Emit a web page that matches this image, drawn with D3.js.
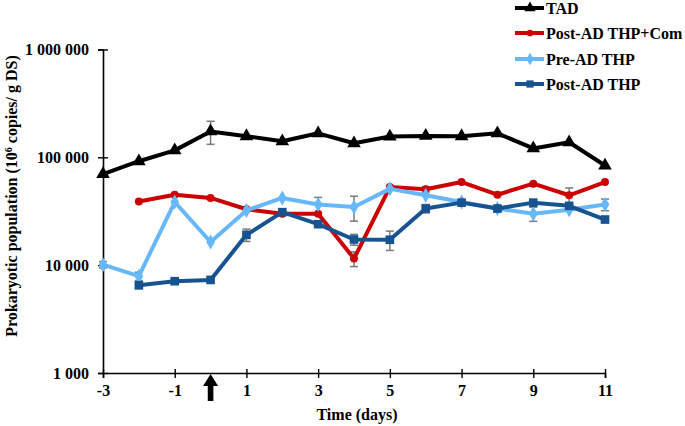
<!DOCTYPE html>
<html><head><meta charset="utf-8">
<script src="https://cdn.jsdelivr.net/npm/d3@7"></script>
<style>
body{margin:0;background:#fff;}
text{font-family:"Liberation Serif","Times New Roman",serif;font-weight:bold;fill:#000;}
</style></head>
<body><svg id="c" width="685" height="426"></svg>
<script>
const days = [-3,-2,-1,0,1,2,3,4,5,6,7,8,9,10,11];
const tad      = [70000, 92000, 116000, 174000, 157000, 141000, 167000, 135000, 156000, 158000, 157000, 167000, 121000, 138000, 84000];
const tadErr   = [null,null,null,42000,null,null,null,null,null,null,null,null,null,null,null];
const postCom  = [null, 39000, 45000, 42000, 33000, 30000, 30000, 11500, 53000, 50500, 59000, 45000, 57000, 44500, 59000];
const postComErr = [null,null,null,null,null,null,null,1800,null,3000,null,null,null,7500,null];
const preAD    = [10100, 7900, 38500, 16400, 32200, 42000, 36500, 34600, 51000, 44500, 38500, 33500, 30000, 32700, 36500];
const preADErr = [700,700,null,null,null,null,6000,9000,null,null,null,null,4500,null,4500];
const postAD   = [null, 6500, 7100, 7300, 19100, 31000, 24000, 17300, 17200, 33500, 38000, 33500, 38000, 35500, 26500];
const postADErr= [null,null,null,null,2500,null,null,2000,3500,3000,null,2000,null,null,null];
const xTicks = [-3,-1,1,3,5,7,9,11];
const yTicks = [1000,10000,100000,1000000];
const seriesNames = ["TAD","Post-AD THP+Com","Pre-AD THP","Post-AD THP"];
const seriesColors = ["#000000","#cc0000","#66b8fa","#175390"];
const seriesSymbols = [d3.symbolTriangle, d3.symbolCircle, d3.symbolDiamond, d3.symbolSquare];
const seriesSizes = [80, 50, 65, 75];

const series = [
  {name:seriesNames[0], vals:tad, err:tadErr},
  {name:seriesNames[1], vals:postCom, err:postComErr},
  {name:seriesNames[2], vals:preAD, err:preADErr},
  {name:seriesNames[3], vals:postAD, err:postADErr}
].map((s,i)=>({...s,color:seriesColors[i],symbol:seriesSymbols[i],size:seriesSizes[i],
  pts:days.map((d,j)=>({d,v:s.vals[j],e:s.err[j]})).filter(p=>p.v!=null)}));

const svg = d3.select("#c");
const x = d3.scaleLinear().domain([-3,11]).range([103,605]);
const y = d3.scaleLog().domain([1000,1000000]).range([373,49.5]);
const fmt = v => d3.format(",")(v).replace(/,/g," ");

// axes
const gx = svg.append("g").attr("transform","translate(0,373)")
  .call(d3.axisBottom(x).tickValues(xTicks).tickSizeOuter(0).tickSize(5).tickFormat(d=>String(d)));
gx.select(".domain").attr("stroke","#000").attr("stroke-width",1.6);
gx.selectAll(".tick line").attr("y1",-4).attr("y2",5).attr("stroke-width",1.4);
gx.selectAll(".tick text").attr("y",12).style("font-size","16px").style("font-family","Liberation Serif").style("font-weight","bold");

const gy = svg.append("g").attr("transform","translate(103,0)")
  .call(d3.axisLeft(y).tickValues(yTicks).tickSizeOuter(0).tickSize(5).tickFormat(fmt));
gy.select(".domain").attr("stroke","#000").attr("stroke-width",1.6);
gy.selectAll(".tick line").attr("x1",5).attr("x2",-5).attr("stroke-width",1.4);
gy.selectAll(".tick text").attr("x",-14).style("font-size","16px").style("font-family","Liberation Serif").style("font-weight","bold");

// axis titles
svg.append("text").attr("x",(x(-3)+x(11))/2 + 3).attr("y",420).attr("text-anchor","middle")
  .style("font-size","16px").text("Time (days)");
const yt = svg.append("text").attr("transform","translate(17,196) rotate(-90)").attr("text-anchor","middle")
  .style("font-size","16px");
yt.append("tspan").text("Prokaryotic population (10");
yt.append("tspan").attr("baseline-shift","super").style("font-size","10px").text("6");
yt.append("tspan").text(" copies/ g DS)");

// arrow at day 0
const ax = x(0);
svg.append("path").attr("fill","#000")
  .attr("d",`M${ax},374 L${ax+7.5},386 L${ax+2.8},386 L${ax+2.8},401 L${ax-2.8},401 L${ax-2.8},386 L${ax-7.5},386 Z`);

// error bars
const eg = svg.append("g").attr("stroke","#7a7a7a").attr("stroke-width",1.5);
series.forEach(s=>{
  s.pts.filter(p=>p.e!=null).forEach(p=>{
    const cx = x(p.d), y1 = y(p.v+p.e), y2 = y(p.v-p.e);
    eg.append("line").attr("x1",cx).attr("x2",cx).attr("y1",y1).attr("y2",y2);
    eg.append("line").attr("x1",cx-4).attr("x2",cx+4).attr("y1",y1).attr("y2",y1);
    eg.append("line").attr("x1",cx-4).attr("x2",cx+4).attr("y1",y2).attr("y2",y2);
  });
});

// lines and markers
const line = d3.line().x(p=>x(p.d)).y(p=>y(p.v));
series.forEach(s=>{
  svg.append("path").datum(s.pts).attr("fill","none").attr("stroke",s.color)
    .attr("stroke-width",4).attr("stroke-linejoin","round").attr("d",line);
  svg.append("g").selectAll("path").data(s.pts).join("path")
    .attr("transform",p=>`translate(${x(p.d)},${y(p.v)})`)
    .attr("d",d3.symbol().type(s.symbol).size(s.size)).attr("fill",s.color);
});

// legend
const legY = [8,33,59,84];
series.forEach((s,i)=>{
  const g = svg.append("g").attr("transform",`translate(0,${legY[i]})`);
  g.append("line").attr("x1",515).attr("x2",544).attr("stroke",s.color).attr("stroke-width",4);
  g.append("path").attr("transform","translate(530,0)").attr("d",d3.symbol().type(s.symbol).size(s.size*0.7)).attr("fill",s.color);
  g.append("text").attr("x",546).attr("y",0).attr("dy","0.35em").style("font-size","16px").text(s.name);
});
</script></body></html>
